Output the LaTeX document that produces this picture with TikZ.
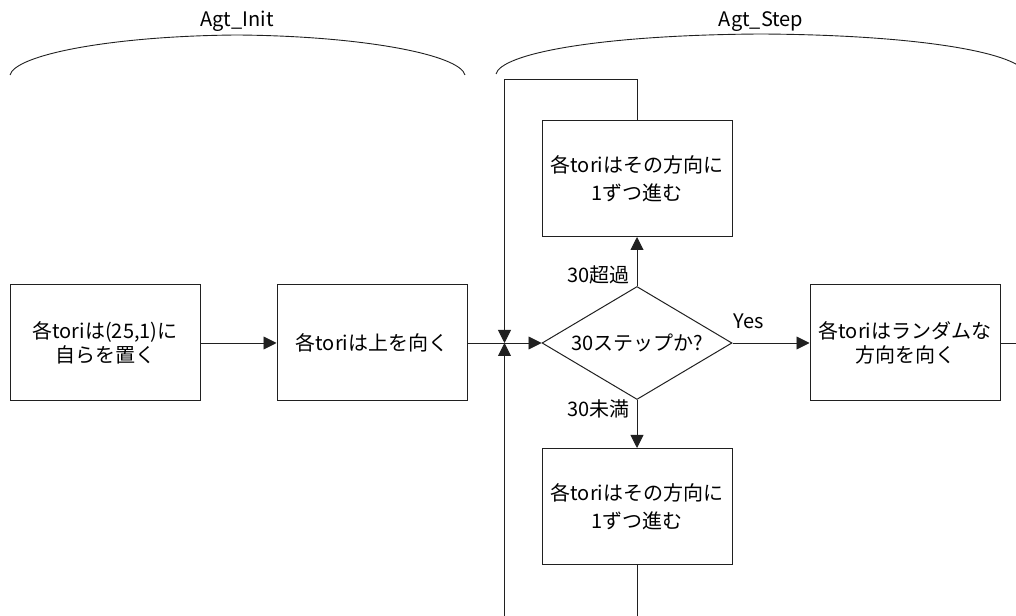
\documentclass[tikz,border=0pt]{standalone}
\usepackage{fontspec}
\setmainfont{Noto Sans CJK JP}
\usepackage{tikz}
\usetikzlibrary{positioning, arrows.meta, shapes.geometric, calc}
\definecolor{linegray}{HTML}{202020}

\begin{document}
\begin{tikzpicture}[x=1pt, y=1pt, font=\fontsize{20}{24}\selectfont,
    box/.style={draw=linegray, line width=1pt, minimum width=190pt,
                minimum height=116pt, align=center, inner sep=0pt},
    decision/.style={draw=linegray, line width=1pt, diamond, minimum width=190pt,
                     minimum height=113pt, shape aspect=1.68, inner sep=0pt},
    flow/.style={draw=linegray, line width=0.9pt, -{Triangle[length=13pt, width=13pt]}},
    brace/.style={draw=linegray, line width=0.9pt},
    tag/.style={inner sep=0pt}]
  \useasboundingbox (0,0) rectangle (1016,615);
  \clip (0,0) rectangle (1016,615);

  \node[box] (place) at (105,272) {各toriは(25,1)に\\自らを置く};
  \node[box, right=76pt of place] (faceup) {各toriは上を向く};
  \node[decision, right=74pt of faceup] (check) {30ステップか?};
  \node[box, right=77pt of check] (turn) {各toriはランダムな\\方向を向く};
  \node[box, above=49pt of check] (over) {各toriはその方向に\\[4pt]1ずつ進む};
  \node[box, below=48pt of check] (under) {各toriはその方向に\\[4pt]1ずつ進む};

  \node[tag, anchor=base east] at ($(check.north)+(-7,3)$) {30超過};
  \node[tag, anchor=base east] at ($(check.south)+(-7,-17)$) {30未満};
  \node[tag, anchor=base west] at ($(check.east)+(1,14)$) {Yes};

  \coordinate (join) at ($(faceup.east)!0.5!(check.west)$);

  \draw[flow] (place) -- (faceup);
  \draw[flow] (faceup) -- (check);
  \draw[flow] (check) -- (turn);
  \draw[flow] (check) -- (over);
  \draw[flow] (check) -- (under);
  \draw[flow] (over.north) -- ++(0,41) -| (join);
  \draw[flow] (turn.east) -- ++(16,0) -- ++(0,-300) -| (join);
  \draw[brace] (under.south) -- ++(0,-80);

  \draw[brace] (10,540) .. controls (15,560) and (110,579) .. (237,580)
    node[tag, anchor=base, yshift=8pt] {Agt\_Init}
    .. controls (364,579) and (460,560) .. (465,540);
  \draw[brace] (496,541) .. controls (501,561) and (596,580) .. (761,581)
    node[tag, anchor=base, yshift=7pt] {Agt\_Step}
    .. controls (926,580) and (1021,561) .. (1026,541);
\end{tikzpicture}
\end{document}
